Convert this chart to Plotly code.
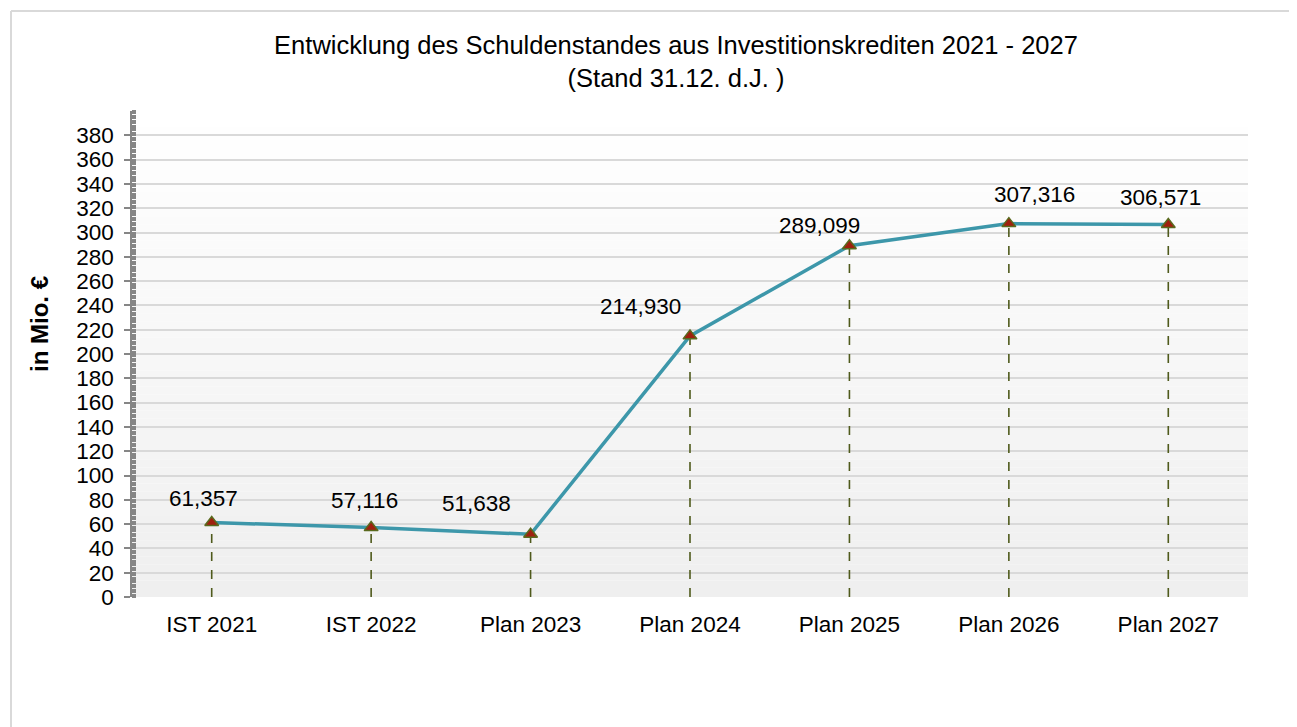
import plotly.graph_objects as go

categories = ["IST 2021", "IST 2022", "Plan 2023", "Plan 2024", "Plan 2025", "Plan 2026", "Plan 2027"]
values = [61.357, 57.116, 51.638, 214.930, 289.099, 307.316, 306.571]
value_labels = ["61,357", "57,116", "51,638", "214,930", "289,099", "307,316", "306,571"]
y_ticks = list(range(0, 381, 20))

# label offsets in pixels (style only)
label_dx = [-8, -7, -54, -50, -30, 26, -8]
label_dy = [24, 27, 31, 29, 20, 29, 27]

FONT = "Liberation Sans, Arial, sans-serif"

fig = go.Figure()

# drop lines
for c, v in zip(categories, values):
    fig.add_trace(go.Scatter(x=[c, c], y=[0, v], mode="lines",
                             line=dict(color="#4f5a1c", width=1.6, dash="dash"),
                             hoverinfo="skip", showlegend=False))

fig.add_trace(go.Scatter(x=categories, y=values, mode="lines+markers",
                         line=dict(color="#3d97aa", width=3.5),
                         marker=dict(symbol="triangle-up", size=12, color="#a0200f",
                                     line=dict(color="#5a6a1e", width=1.5)),
                         showlegend=False))

for c, v, t, dx, dy in zip(categories, values, value_labels, label_dx, label_dy):
    fig.add_annotation(x=c, y=v, text=t, showarrow=False, xshift=dx, yshift=dy,
                       font=dict(family=FONT, size=22.5, color="#000000"))

# gradient background of plot area
shapes = []
n = 60
for k in range(n):
    f = k / (n - 1)
    g = int(round(255 - (255 - 239) * f))
    y1 = 1 - k / n
    y0 = 1 - (k + 1) / n
    shapes.append(dict(type="rect", xref="paper", yref="paper", x0=0, x1=1, y0=y0, y1=y1,
                       fillcolor=f"rgb({g},{g},{g})", line=dict(width=0), layer="below"))

# page body has an 8px offset
OFF = 8
W, H = 1297 - OFF, 727 - OFF
L, R, T, B = 132 - OFF, 49, 111 - OFF, 130
pw, ph = W - L - R, H - T - B
def px(x): return (x - OFF - L) / pw
def py(y): return 1 - (y - OFF - T) / ph
shapes.append(dict(type="line", xref="paper", yref="paper", x0=px(11), x1=px(11), y0=py(11), y1=py(740),
                   line=dict(color="#d9d9d9", width=2)))
shapes.append(dict(type="line", xref="paper", yref="paper", x0=px(11), x1=px(1310), y0=py(11), y1=py(11),
                   line=dict(color="#d9d9d9", width=2)))

# y-axis title
fig.add_annotation(xref="paper", yref="paper", x=px(39), y=py(324), text="<b>in Mio. €</b>",
                   textangle=-90, showarrow=False, xanchor="center", yanchor="middle",
                   font=dict(family=FONT, size=24, color="#000000"))

fig.update_layout(
    width=W, height=H,
    margin=dict(l=L, r=R, t=T, b=B),
    paper_bgcolor="white", plot_bgcolor="rgba(0,0,0,0)",
    shapes=shapes,
    font=dict(family=FONT, color="#000000"),
    title=dict(text="Entwicklung des Schuldenstandes aus Investitionskrediten 2021 - 2027<br>(Stand 31.12. d.J. )",
               x=(676 - OFF) / W, xanchor="center", y=1 - (54 - OFF) / H, yanchor="middle",
               font=dict(family=FONT, size=25.5, color="#000000")),
    xaxis=dict(type="category", categoryorder="array", categoryarray=categories,
               range=[-0.5, 6.5], showgrid=False, showline=False, zeroline=False,
               ticks="", ticklabelstandoff=11,
               tickfont=dict(family=FONT, size=22.5, color="#000000")),
    yaxis=dict(range=[0, 400], tickvals=y_ticks, showgrid=True, gridcolor="#d9d9d9", gridwidth=1.5,
               zeroline=False, showline=True, linecolor="#868686", linewidth=1.5,
               ticks="outside", ticklen=6, tickcolor="#868686", tickwidth=1.5,
               ticklabelstandoff=6,
               minor=dict(ticks="inside", dtick=2, tick0=0, ticklen=4, tickcolor="#868686", showgrid=False),
               tickfont=dict(family=FONT, size=22.5, color="#000000")),
)

fig.write_html("out.html")
